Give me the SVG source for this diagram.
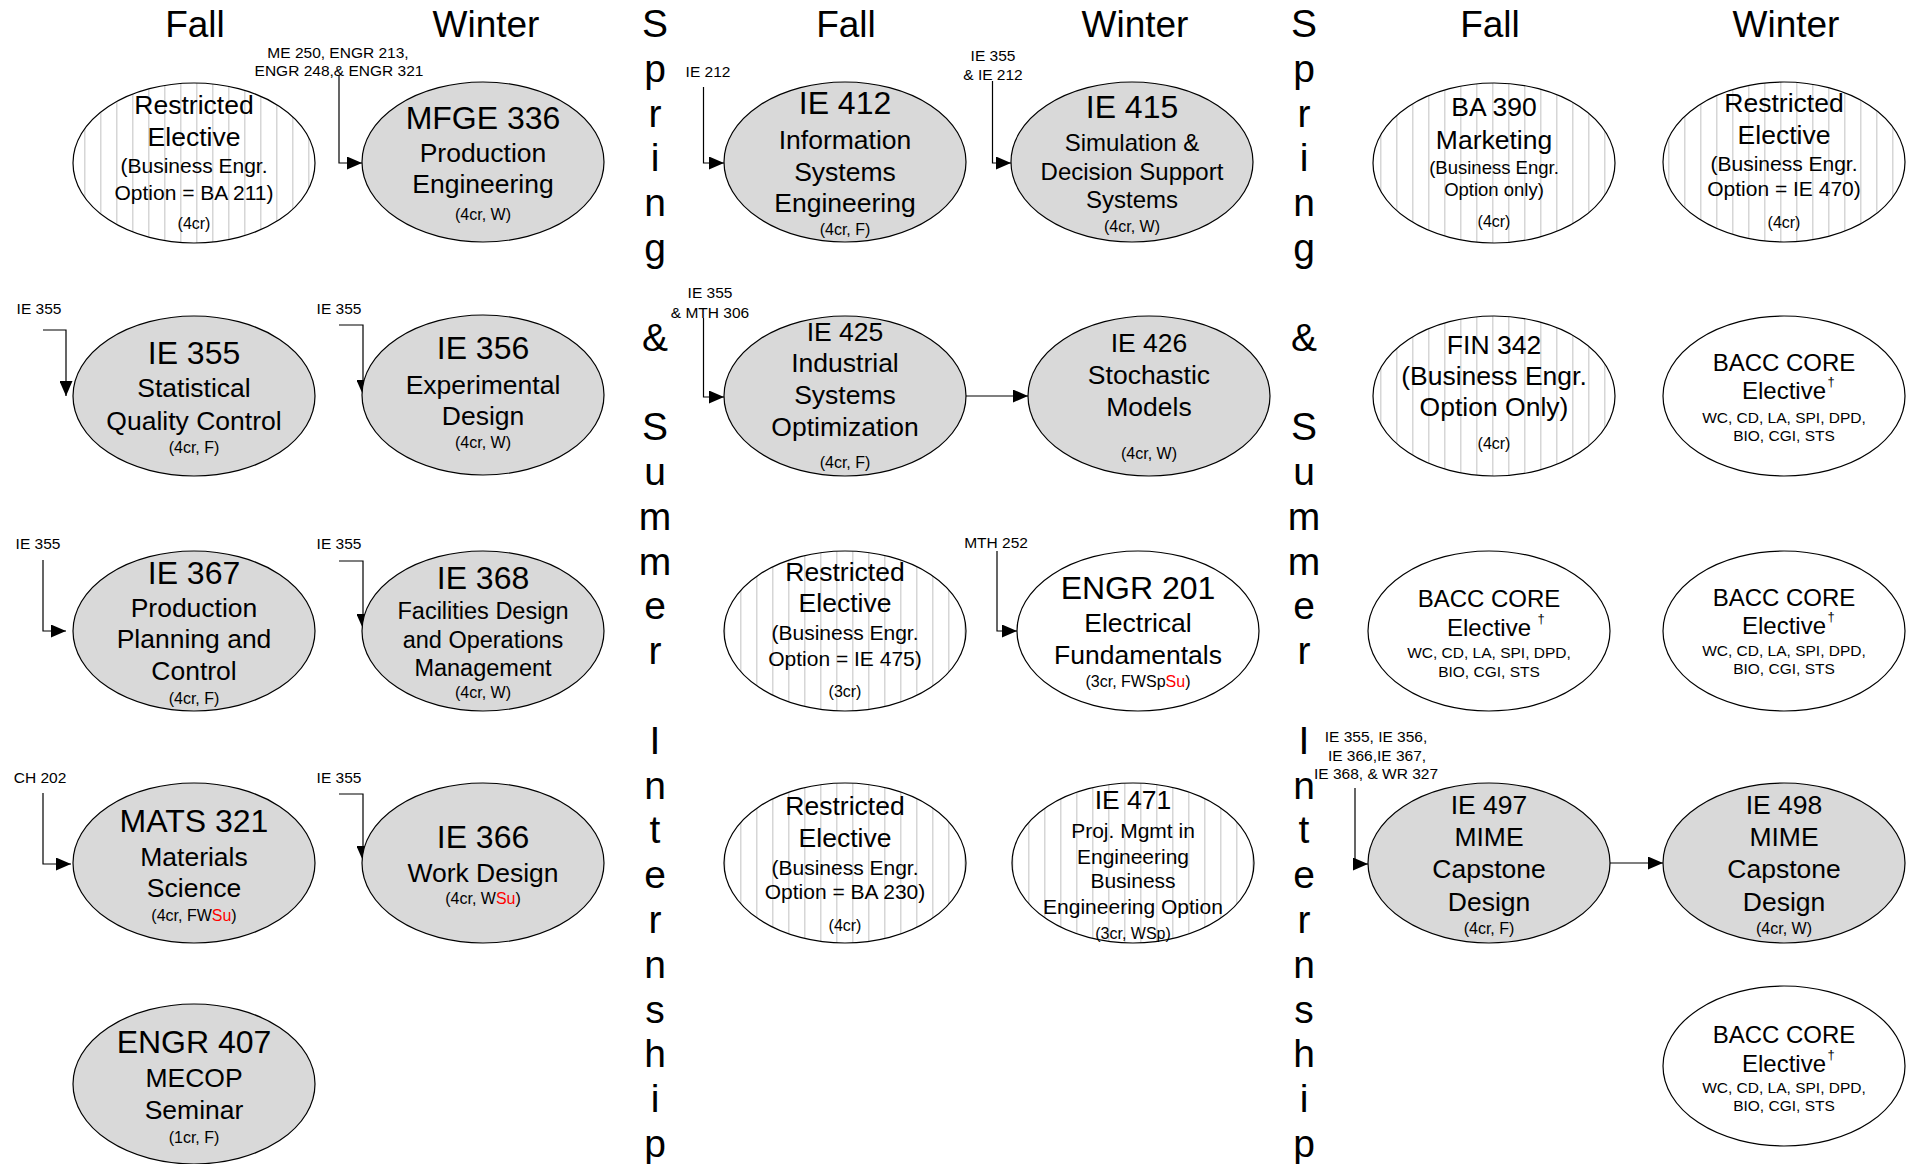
<svg xmlns="http://www.w3.org/2000/svg" width="1909" height="1164" viewBox="0 0 1909 1164">
<style>
text{font-family:"Liberation Sans",Arial,sans-serif;fill:#000}
.hdr{font-size:37px;text-anchor:middle}
.v{font-size:39px;text-anchor:middle}
.n text{text-anchor:middle}
.big{font-size:32px}
.mid{font-size:26.5px}
.m24{font-size:24px}
.m23{font-size:23.5px}
.sm{font-size:21px}
.s18{font-size:18.5px}
.cr{font-size:16px}
.core{font-size:15.5px}
.pre{font-size:15.5px;text-anchor:middle}
.dag{font-size:13px;text-anchor:start}
.su{fill:#ff0000}
.g{fill:#d9d9d9;stroke:#000;stroke-width:1.2}
.h{fill:url(#hatch);stroke:#000;stroke-width:1.2}
.w{fill:#fff;stroke:#000;stroke-width:1.2}
#connectors path{fill:none;stroke:#000;stroke-width:1.2;marker-end:url(#arr)}
</style>
<defs>
<pattern id="hatch" patternUnits="userSpaceOnUse" width="16" height="16" x="4" y="0">
<rect width="16" height="16" fill="#fff"/>
<line x1="0" y1="0" x2="0" y2="16" stroke="#d6d6d6" stroke-width="3"/>
</pattern>
<marker id="arr" markerUnits="userSpaceOnUse" markerWidth="15" markerHeight="13" refX="15" refY="6.5" orient="auto">
<path d="M0,0 L15,6.5 L0,13 z" fill="#000"/>
</marker>
</defs>
<rect width="1909" height="1164" fill="#fff"/>

<g id="headers">
<text class="hdr" x="195" y="37">Fall</text>
<text class="hdr" x="486" y="37">Winter</text>
<text class="hdr" x="846" y="37">Fall</text>
<text class="hdr" x="1135" y="37">Winter</text>
<text class="hdr" x="1490" y="37">Fall</text>
<text class="hdr" x="1786" y="37">Winter</text>
</g>

<g id="internship1">
<text class="v" x="655" y="37">S</text>
<text class="v" x="655" y="81.8">p</text>
<text class="v" x="655" y="126.6">r</text>
<text class="v" x="655" y="171.4">i</text>
<text class="v" x="655" y="216.2">n</text>
<text class="v" x="655" y="261">g</text>
<text class="v" x="655" y="350.6">&amp;</text>
<text class="v" x="655" y="440.2">S</text>
<text class="v" x="655" y="485">u</text>
<text class="v" x="655" y="529.8">m</text>
<text class="v" x="655" y="574.6">m</text>
<text class="v" x="655" y="619.4">e</text>
<text class="v" x="655" y="664.2">r</text>
<text class="v" x="655" y="753.8">I</text>
<text class="v" x="655" y="798.6">n</text>
<text class="v" x="655" y="843.4">t</text>
<text class="v" x="655" y="888.2">e</text>
<text class="v" x="655" y="933">r</text>
<text class="v" x="655" y="977.8">n</text>
<text class="v" x="655" y="1022.6">s</text>
<text class="v" x="655" y="1067.4">h</text>
<text class="v" x="655" y="1112.2">i</text>
<text class="v" x="655" y="1157">p</text>
</g>
<g id="internship2">
<text class="v" x="1304" y="37">S</text>
<text class="v" x="1304" y="81.8">p</text>
<text class="v" x="1304" y="126.6">r</text>
<text class="v" x="1304" y="171.4">i</text>
<text class="v" x="1304" y="216.2">n</text>
<text class="v" x="1304" y="261">g</text>
<text class="v" x="1304" y="350.6">&amp;</text>
<text class="v" x="1304" y="440.2">S</text>
<text class="v" x="1304" y="485">u</text>
<text class="v" x="1304" y="529.8">m</text>
<text class="v" x="1304" y="574.6">m</text>
<text class="v" x="1304" y="619.4">e</text>
<text class="v" x="1304" y="664.2">r</text>
<text class="v" x="1304" y="753.8">I</text>
<text class="v" x="1304" y="798.6">n</text>
<text class="v" x="1304" y="843.4">t</text>
<text class="v" x="1304" y="888.2">e</text>
<text class="v" x="1304" y="933">r</text>
<text class="v" x="1304" y="977.8">n</text>
<text class="v" x="1304" y="1022.6">s</text>
<text class="v" x="1304" y="1067.4">h</text>
<text class="v" x="1304" y="1112.2">i</text>
<text class="v" x="1304" y="1157">p</text>
</g>

<g id="prereqs">
<text class="pre" x="338" y="57.5">ME 250, ENGR 213,</text>
<text class="pre" x="339" y="76">ENGR 248,&amp; ENGR 321</text>
<text class="pre" x="39" y="314">IE 355</text>
<text class="pre" x="339" y="314">IE 355</text>
<text class="pre" x="38" y="549">IE 355</text>
<text class="pre" x="339" y="549">IE 355</text>
<text class="pre" x="40" y="783">CH 202</text>
<text class="pre" x="339" y="783">IE 355</text>
<text class="pre" x="708" y="77">IE 212</text>
<text class="pre" x="993" y="61">IE 355</text>
<text class="pre" x="993" y="80">&amp; IE 212</text>
<text class="pre" x="710" y="298">IE 355</text>
<text class="pre" x="710" y="318">&amp; MTH 306</text>
<text class="pre" x="996" y="548">MTH 252</text>
<text class="pre" x="1376" y="741.5">IE 355, IE 356,</text>
<text class="pre" x="1377" y="760.5">IE 366,IE 367,</text>
<text class="pre" x="1376" y="779">IE 368, &amp; WR 327</text>
</g>

<g id="connectors">
<path d="M339,75 V163 H362"/>
<path d="M43,330 H66 V396"/>
<path d="M339,325 H363 V395"/>
<path d="M43,560 V631 H66"/>
<path d="M339,561 H363 V629"/>
<path d="M43,793 V864 H71"/>
<path d="M339,794 H363 V861"/>
<path d="M703.5,87 V163 H724"/>
<path d="M992.5,81 V163 H1011"/>
<path d="M703.5,318 V397 H724"/>
<path d="M966,396 H1028"/>
<path d="M997,551 V631 H1017"/>
<path d="M1355,788 V864 H1368"/>
<path d="M1610,863 H1663"/>
</g>

<g id="n-re-ba211" class="n">
<ellipse class="h" cx="194" cy="163" rx="121" ry="80"/>
<text class="mid" x="194" y="114">Restricted</text>
<text class="mid" x="194" y="146">Elective</text>
<text class="sm" x="194" y="173">(Business Engr.</text>
<text class="sm" x="194" y="200">Option = BA 211)</text>
<text class="cr" x="194" y="229">(4cr)</text>
</g>
<g id="n-ie355" class="n">
<ellipse class="g" cx="194" cy="396" rx="121" ry="80"/>
<text class="big" x="194" y="364">IE 355</text>
<text class="mid" x="194" y="397">Statistical</text>
<text class="mid" x="194" y="430">Quality Control</text>
<text class="cr" x="194" y="453">(4cr, F)</text>
</g>
<g id="n-ie367" class="n">
<ellipse class="g" cx="194" cy="631" rx="121" ry="80"/>
<text class="big" x="194" y="584">IE 367</text>
<text class="mid" x="194" y="617">Production</text>
<text class="mid" x="194" y="648">Planning and</text>
<text class="mid" x="194" y="680">Control</text>
<text class="cr" x="194" y="704">(4cr, F)</text>
</g>
<g id="n-mats321" class="n">
<ellipse class="g" cx="194" cy="863" rx="121" ry="80"/>
<text class="big" x="194" y="832">MATS 321</text>
<text class="mid" x="194" y="866">Materials</text>
<text class="mid" x="194" y="897">Science</text>
<text class="cr" x="194" y="921">(4cr, FW<tspan class="su">Su</tspan>)</text>
</g>
<g id="n-engr407" class="n">
<ellipse class="g" cx="194" cy="1084" rx="121" ry="80"/>
<text class="big" x="194" y="1053">ENGR 407</text>
<text class="mid" x="194" y="1087">MECOP</text>
<text class="mid" x="194" y="1119">Seminar</text>
<text class="cr" x="194" y="1143">(1cr, F)</text>
</g>

<g id="n-mfge336" class="n">
<ellipse class="g" cx="483" cy="162" rx="121" ry="80"/>
<text class="big" x="483" y="129">MFGE 336</text>
<text class="mid" x="483" y="162">Production</text>
<text class="mid" x="483" y="193">Engineering</text>
<text class="cr" x="483" y="220">(4cr, W)</text>
</g>
<g id="n-ie356" class="n">
<ellipse class="g" cx="483" cy="395" rx="121" ry="80"/>
<text class="big" x="483" y="359">IE 356</text>
<text class="mid" x="483" y="394">Experimental</text>
<text class="mid" x="483" y="425">Design</text>
<text class="cr" x="483" y="448">(4cr, W)</text>
</g>
<g id="n-ie368" class="n">
<ellipse class="g" cx="483" cy="631" rx="121" ry="80"/>
<text class="big" x="483" y="589">IE 368</text>
<text class="m23" x="483" y="619">Facilities Design</text>
<text class="m23" x="483" y="648">and Operations</text>
<text class="m23" x="483" y="676">Management</text>
<text class="cr" x="483" y="698">(4cr, W)</text>
</g>
<g id="n-ie366" class="n">
<ellipse class="g" cx="483" cy="863" rx="121" ry="80"/>
<text class="big" x="483" y="848">IE 366</text>
<text class="mid" x="483" y="882">Work Design</text>
<text class="cr" x="483" y="904">(4cr, W<tspan class="su">Su</tspan>)</text>
</g>

<g id="n-ie412" class="n">
<ellipse class="g" cx="845" cy="162" rx="121" ry="80"/>
<text class="big" x="845" y="114">IE 412</text>
<text class="mid" x="845" y="149">Information</text>
<text class="mid" x="845" y="181">Systems</text>
<text class="mid" x="845" y="212">Engineering</text>
<text class="cr" x="845" y="235">(4cr, F)</text>
</g>
<g id="n-ie425" class="n">
<ellipse class="g" cx="845" cy="396" rx="121" ry="80"/>
<text class="mid" x="845" y="341">IE 425</text>
<text class="mid" x="845" y="372">Industrial</text>
<text class="mid" x="845" y="404">Systems</text>
<text class="mid" x="845" y="436">Optimization</text>
<text class="cr" x="845" y="468">(4cr, F)</text>
</g>
<g id="n-re-ie475" class="n">
<ellipse class="h" cx="845" cy="631" rx="121" ry="80"/>
<text class="mid" x="845" y="581">Restricted</text>
<text class="mid" x="845" y="612">Elective</text>
<text class="sm" x="845" y="640">(Business Engr.</text>
<text class="sm" x="845" y="666">Option = IE 475)</text>
<text class="cr" x="845" y="697">(3cr)</text>
</g>
<g id="n-re-ba230" class="n">
<ellipse class="h" cx="845" cy="863" rx="121" ry="80"/>
<text class="mid" x="845" y="815">Restricted</text>
<text class="mid" x="845" y="847">Elective</text>
<text class="sm" x="845" y="875">(Business Engr.</text>
<text class="sm" x="845" y="899">Option = BA 230)</text>
<text class="cr" x="845" y="931">(4cr)</text>
</g>

<g id="n-ie415" class="n">
<ellipse class="g" cx="1132" cy="162" rx="121" ry="80"/>
<text class="big" x="1132" y="118">IE 415</text>
<text class="m24" x="1132" y="151">Simulation &amp;</text>
<text class="m24" x="1132" y="180">Decision Support</text>
<text class="m24" x="1132" y="208">Systems</text>
<text class="cr" x="1132" y="232">(4cr, W)</text>
</g>
<g id="n-ie426" class="n">
<ellipse class="g" cx="1149" cy="396" rx="121" ry="80"/>
<text class="mid" x="1149" y="352">IE 426</text>
<text class="mid" x="1149" y="384">Stochastic</text>
<text class="mid" x="1149" y="416">Models</text>
<text class="cr" x="1149" y="459">(4cr, W)</text>
</g>
<g id="n-engr201" class="n">
<ellipse class="w" cx="1138" cy="631" rx="121" ry="80"/>
<text class="big" x="1138" y="599">ENGR 201</text>
<text class="mid" x="1138" y="632">Electrical</text>
<text class="mid" x="1138" y="664">Fundamentals</text>
<text class="cr" x="1138" y="687">(3cr, FWSp<tspan class="su">Su</tspan>)</text>
</g>
<g id="n-ie471" class="n">
<ellipse class="h" cx="1133" cy="863" rx="121" ry="80"/>
<text class="mid" x="1133" y="809">IE 471</text>
<text class="sm" x="1133" y="838">Proj. Mgmt in</text>
<text class="sm" x="1133" y="864">Engineering</text>
<text class="sm" x="1133" y="888">Business</text>
<text class="sm" x="1133" y="914">Engineering Option</text>
<text class="cr" x="1133" y="939">(3cr, WSp)</text>
</g>

<g id="n-ba390" class="n">
<ellipse class="h" cx="1494" cy="163" rx="121" ry="80"/>
<text class="mid" x="1494" y="116">BA 390</text>
<text class="mid" x="1494" y="149">Marketing</text>
<text class="s18" x="1494" y="173.5">(Business Engr.</text>
<text class="s18" x="1494" y="195.5">Option only)</text>
<text class="cr" x="1494" y="227">(4cr)</text>
</g>
<g id="n-fin342" class="n">
<ellipse class="h" cx="1494" cy="396" rx="121" ry="80"/>
<text class="mid" x="1494" y="354">FIN 342</text>
<text class="mid" x="1494" y="385">(Business Engr.</text>
<text class="mid" x="1494" y="416">Option Only)</text>
<text class="cr" x="1494" y="449">(4cr)</text>
</g>
<g id="n-bacc-f3" class="n">
<ellipse class="w" cx="1489" cy="631" rx="121" ry="80"/>
<text class="m24" x="1489" y="606.5">BACC CORE</text>
<text class="m24" x="1489" y="635.5">Elective</text>
<text class="dag" x="1541" y="623">†</text>
<text class="core" x="1489" y="657.5">WC, CD, LA, SPI, DPD,</text>
<text class="core" x="1489" y="676.5">BIO, CGI, STS</text>
</g>
<g id="n-ie497" class="n">
<ellipse class="g" cx="1489" cy="863" rx="121" ry="80"/>
<text class="mid" x="1489" y="814">IE 497</text>
<text class="mid" x="1489" y="846">MIME</text>
<text class="mid" x="1489" y="878">Capstone</text>
<text class="mid" x="1489" y="911">Design</text>
<text class="cr" x="1489" y="934">(4cr, F)</text>
</g>

<g id="n-re-ie470" class="n">
<ellipse class="h" cx="1784" cy="162" rx="121" ry="80"/>
<text class="mid" x="1784" y="112">Restricted</text>
<text class="mid" x="1784" y="144">Elective</text>
<text class="sm" x="1784" y="171">(Business Engr.</text>
<text class="sm" x="1784" y="196">Option = IE 470)</text>
<text class="cr" x="1784" y="228">(4cr)</text>
</g>
<g id="n-bacc-w2" class="n">
<ellipse class="w" cx="1784" cy="396" rx="121" ry="80"/>
<text class="m24" x="1784" y="370.5">BACC CORE</text>
<text class="m24" x="1784" y="398.5">Elective</text>
<text class="dag" x="1831" y="386">†</text>
<text class="core" x="1784" y="422.5">WC, CD, LA, SPI, DPD,</text>
<text class="core" x="1784" y="440.5">BIO, CGI, STS</text>
</g>
<g id="n-bacc-w3" class="n">
<ellipse class="w" cx="1784" cy="631" rx="121" ry="80"/>
<text class="m24" x="1784" y="605.5">BACC CORE</text>
<text class="m24" x="1784" y="633.5">Elective</text>
<text class="dag" x="1831" y="621">†</text>
<text class="core" x="1784" y="655.5">WC, CD, LA, SPI, DPD,</text>
<text class="core" x="1784" y="673.5">BIO, CGI, STS</text>
</g>
<g id="n-ie498" class="n">
<ellipse class="g" cx="1784" cy="863" rx="121" ry="80"/>
<text class="mid" x="1784" y="814">IE 498</text>
<text class="mid" x="1784" y="846">MIME</text>
<text class="mid" x="1784" y="878">Capstone</text>
<text class="mid" x="1784" y="911">Design</text>
<text class="cr" x="1784" y="934">(4cr, W)</text>
</g>
<g id="n-bacc-w5" class="n">
<ellipse class="w" cx="1784" cy="1066" rx="121" ry="80"/>
<text class="m24" x="1784" y="1042.5">BACC CORE</text>
<text class="m24" x="1784" y="1071.5">Elective</text>
<text class="dag" x="1831" y="1059">†</text>
<text class="core" x="1784" y="1092.5">WC, CD, LA, SPI, DPD,</text>
<text class="core" x="1784" y="1110.5">BIO, CGI, STS</text>
</g>
</svg>
